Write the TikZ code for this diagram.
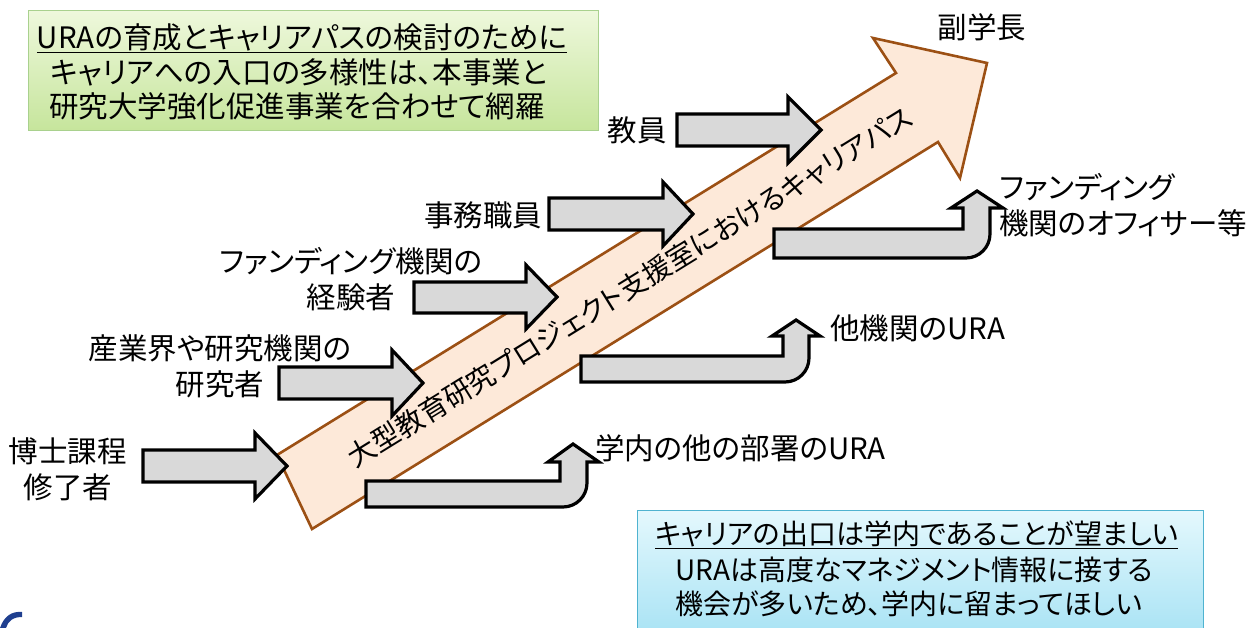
\documentclass[tikz,border=0pt]{standalone}
\usepackage{fontspec}
\setmainfont{Noto Sans CJK JP}[CharacterWidth=AlternateProportional]
\definecolor{arrowgray}{HTML}{D9D9D9}
\definecolor{arrowpeach}{HTML}{FDE9D9}
\definecolor{arrowbrown}{HTML}{9C5014}
\definecolor{greentop}{HTML}{EEF8DC}
\definecolor{greenbot}{HTML}{C6E59C}
\definecolor{greenline}{HTML}{A9D18E}
\definecolor{bluetop}{HTML}{E4F8FD}
\definecolor{bluebot}{HTML}{A6E2F4}
\definecolor{blueline}{HTML}{4FB3D0}
\definecolor{logoblue}{HTML}{1F3F8F}
\begin{document}
\begin{tikzpicture}[x=1pt,y=-1pt,
  lbl/.style={font=\fontsize{29.5}{36}\selectfont, inner sep=0pt, align=center},
  smalllbl/.style={font=\fontsize{28}{34}\selectfont, inner sep=0pt, align=center},
  grayarrow/.style={draw=black, fill=arrowgray, line width=3.2pt, line join=miter, miter limit=10},
  bigarrow/.style={draw=arrowbrown, fill=arrowpeach, line width=2.6pt, line join=miter, miter limit=10},
  greenbox/.style={draw=greenline, line width=1.2pt, top color=greentop, bottom color=greenbot, inner sep=0pt},
  bluebox/.style={draw=blueline, line width=1.2pt, top color=bluetop, bottom color=bluebot, inner sep=0pt}]
\useasboundingbox (0,0) rectangle (1255,628);

% green box
\node[greenbox, minimum width=570pt, minimum height=120pt, anchor=north west] (gbox) at (28,10) {};
\node[lbl] (g1) at (302,38) {\underline{URAの育成とキャリアパスの検討のために}};
\node[lbl] (g2) at (299,72) {キャリアへの入口の多様性は、本事業と};
\node[lbl] (g3) at (297,106) {研究大学強化促進事業を合わせて網羅};

% blue box
\node[bluebox, minimum width=566pt, minimum height=130pt, anchor=north west] (bbox) at (637,510) {};
\node[smalllbl, anchor=west] (b1) at (655,535) {\underline{キャリアの出口は学内であることが望ましい}};
\node[smalllbl, anchor=west] (b2) at (675,570) {URAは高度なマネジメント情報に接する};
\node[smalllbl, anchor=west] (b3) at (675,604) {機会が多いため、学内に留まってほしい};

% big arrow
\draw[bigarrow] (277,455) -- (896,73) -- (873,38) -- (987,63) -- (960,178) -- (938,142) -- (312,529) -- cycle;
\node[smalllbl, rotate=31.7] (pathtxt) at (630,287) {大型教育研究プロジェクト支援室におけるキャリアパス};

% labels
\node[lbl] (vp) at (982,27) {副学長};
\node[lbl] (kyoin) at (637,130) {教員};
\node[lbl] (jimu) at (483,215) {事務職員};
\node[lbl] (funexp) at (351,279) {ファンディング機関の\\経験者};
\node[lbl] (sangyo) at (220,366) {産業界や研究機関の\\研究者};
\node[lbl] (hakase) at (68,469) {博士課程\\修了者};
\node[lbl, align=left, anchor=west] (funoff) at (999,205) {ファンディング\\機関のオフィサー等};
\node[lbl, anchor=west] (other) at (830,328) {他機関のURA};
\node[lbl, anchor=west] (gakunai) at (595,448) {学内の他の部署のURA};

% straight gray arrows (entrances)
\draw[grayarrow] (143,450) -- (255,450) -- (255,433) -- (287,466) -- (255,499) -- (255,482) -- (143,482) -- cycle;
\draw[grayarrow] (279,367) -- (392,367) -- (392,350) -- (423,383) -- (392,416) -- (392,399) -- (279,399) -- cycle;
\draw[grayarrow] (414,282) -- (526,282) -- (526,265) -- (557,297) -- (526,329) -- (526,313) -- (414,313) -- cycle;
\draw[grayarrow] (549,198) -- (663,198) -- (663,182) -- (693,214) -- (663,246) -- (663,230) -- (549,230) -- cycle;
\draw[grayarrow] (677,114) -- (788,114) -- (788,97) -- (821,130) -- (788,163) -- (788,146) -- (677,146) -- cycle;

% bent gray arrows (exits)
\draw[grayarrow] (774,229) -- (963,229) -- (963,208) -- (951,208) -- (977,191) -- (1003,208) -- (990,208) -- (990,234) arc[start angle=0, end angle=90, radius=24] -- (774,258) -- cycle;
\draw[grayarrow] (581,356) -- (783,356) -- (783,336) -- (772,336) -- (796,320) -- (820,336) -- (809,336) -- (809,358) arc[start angle=0, end angle=90, radius=24] -- (581,382) -- cycle;
\draw[grayarrow] (366,481) -- (560,481) -- (560,462) -- (548,462) -- (573,444) -- (599,462) -- (587,462) -- (587,483) arc[start angle=0, end angle=90, radius=24] -- (366,507) -- cycle;

% logo fragment
\fill[logoblue] (0,628) .. controls (4,616) and (12,611) .. (22,612) -- (22,617) .. controls (13,617) and (8,621) .. (6,628) -- cycle;
\end{tikzpicture}
\end{document}
